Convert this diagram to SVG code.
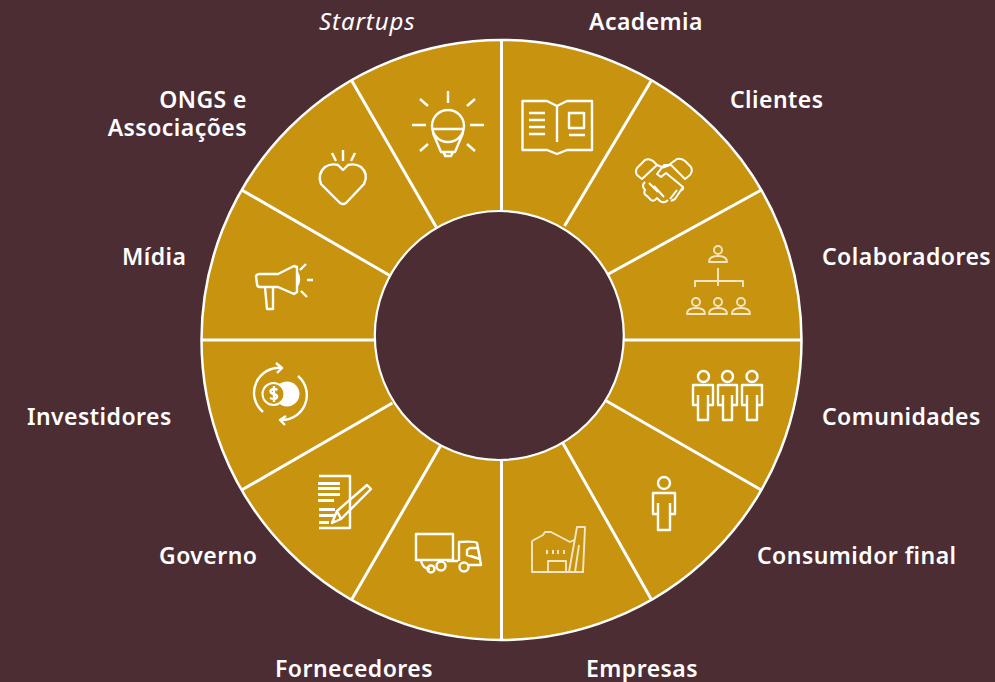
<svg xmlns="http://www.w3.org/2000/svg" width="995" height="682" viewBox="0 0 995 682">
<style>
.bg{fill:#4d2d34}
.ring{fill:#c8930f;stroke:#fff;stroke-width:2.500}
.sp{stroke:#fff;stroke-width:3;fill:none}
.i{fill:none;stroke:#fff;stroke-width:2.400;stroke-linejoin:round;stroke-linecap:butt}
.t{stroke-width:2}
.soft{stroke:#f4e6c4;stroke-width:1.900}
.w{fill:#fff;stroke:none}
text{font-family:"Noto Sans","Liberation Sans",sans-serif;font-size:23px;font-weight:600;fill:#fff;letter-spacing:.45px}
.it{font-style:italic;font-weight:400;font-size:24px;letter-spacing:.9px}
</style>
<rect class="bg" width="995" height="682"/>
<g id="ring"><circle class="ring" cx="501.500" cy="340" r="300"/></g>
<g id="connectors">
<path class="sp" d="M501.500 40V214M501.500 460V640M201.500 340H375.500M623.500 340H801.500M351.500 80.200L438.500 230.900M560 438L651.500 599.800M241.700 190L392.400 277M603 399L761.300 490M241.700 490L392.400 403M603 277L761.300 190M351.500 599.800L441 445M564.500 226L651.500 80.200"/>
</g>
<circle class="bg" cx="499.300" cy="335.500" r="124.500" stroke="#fff" stroke-width="2.200"/>

<g id="startups"><text class="it" x="319" y="30">Startups</text>
<g class="i"><circle cx="448" cy="126" r="16"/><path d="M432 129H464M433 133L441 152H455L463 133M443 152L445 155V156H451L453 152M448 91V103M420 99L428 106M475 99L467 106M412 125H426M484 125H470M420 151L428 144M475 151L467 144"/></g></g>

<g id="academia"><text x="589" y="30">Academia</text>
<g class="i"><path d="M522.500 101V150H547L557 154L567 150H592V101H567L557 106L547 101ZM557 106V142"/><path d="M529 113H545M529 120H545M529 127H545M529 134H545M569 135H585"/><rect x="569" y="113" width="15" height="15"/></g></g>

<g id="clientes"><text x="730" y="108">Clientes</text>
<g class="i t"><path d="M642 179L657 165L653 161Q649 158 645 160L637 168Q635 172 637 175ZM670 164L685 179L690 175Q693 171 691 167L685 161Q681 158 677 159ZM657 165L663 167.500L670 165H664L657 174L661 177L666 173L683 187Q684 190 680 191M645 182Q641 186 645 190Q643 194 647 196L651 200Q654 202 657 198L660 201Q664 204 668 200M649 183L658 192M654 186L664 197M683 187L675 199L671 201M677 190L670 199"/></g></g>

<g id="colaboradores"><text x="822" y="265">Colaboradores</text>
<g class="i soft"><circle cx="718" cy="250" r="4"/><path d="M709 262Q709 256 718 256Q727 256 727 262ZM718 268V286M695 287V281H743V287"/>
<circle cx="696" cy="302" r="4"/><path d="M687 314Q687 308 696 308Q705 308 705 314Z"/><circle cx="718" cy="302" r="4"/><path d="M709 314Q709 308 718 308Q727 308 727 314Z"/><circle cx="741" cy="302" r="4"/><path d="M732 314Q732 308 741 308Q750 308 750 314Z"/></g></g>

<g id="comunidades"><text x="822" y="425">Comunidades</text>
<g class="i"><circle cx="703.500" cy="376.500" r="5.500"/><circle cx="727.500" cy="376.500" r="5.500"/><circle cx="752" cy="376.500" r="5.500"/>
<path d="M693 405V385H713V405H708V420H698V405ZM698 395V405M708 395V405"/>
<path d="M718 405V385H737V405H732V420H723V405ZM723 395V405M732 395V405"/>
<path d="M742 405V385H762V405H757V420H747V405ZM747 395V405M757 395V405"/></g></g>

<g id="consumidor"><text x="757" y="564">Consumidor final</text>
<g class="i"><circle cx="664" cy="483" r="6"/><path d="M653 514V493H675V514H670V530H658V514ZM658 503V514M670 503V514"/></g></g>

<g id="empresas"><text x="586" y="677">Empresas</text>
<g class="i soft"><path d="M532 541L543 535L545 532H551L570 542L574 540M532 541V572H584M548 572V561H566V572M569 572L577 527H585L583 572M575 572L579 545"/></g>
<g fill="#f4e6c4"><rect x="546" y="550" width="2" height="4"/><rect x="552" y="550" width="2" height="4"/><rect x="557" y="550" width="2" height="4"/><rect x="563" y="550" width="2" height="4"/></g></g>

<g id="fornecedores"><text x="275" y="677">Fornecedores</text>
<g class="i"><rect x="416" y="534" width="37" height="26"/><path d="M459 561V542Q475 541 477 543L481 565H469M467 550L470 548H478L480 559L467 555ZM421 561Q423 569 430 569M447 561H458"/><circle cx="441" cy="566" r="4.500"/><circle cx="464" cy="567" r="4.500"/><circle cx="431" cy="569" r="3.500"/></g></g>

<g id="governo"><text x="159" y="564">Governo</text>
<path class="i" stroke-width="1.600" d="M319 476H350V528H319"/>
<g class="w"><rect x="318" y="482" width="22" height="3"/><rect x="318" y="487" width="22" height="3"/><rect x="318" y="493" width="22" height="3"/><rect x="318" y="499" width="16" height="3"/><rect x="319" y="508" width="16" height="3"/><rect x="319" y="514" width="16" height="3"/><rect x="319" y="521" width="10" height="3"/></g>
<path class="i" stroke-width="2" d="M332 523L337 511L367 485L371 489L341 519ZM337 511L341 519"/></g>

<g id="investidores"><text x="27" y="425">Investidores</text>
<circle class="w" cx="287" cy="394" r="12.500"/>
<circle cx="273.500" cy="394" r="11" fill="#c8930f" stroke="#fff" stroke-width="2"/>
<path class="i" d="M263 412A25 25 0 0 1 282 368M276 363L282 368L277 373M298 376A25 25 0 0 1 280 420M286 416L280 420L285 425"/>
<path class="i" stroke-width="1.800" d="M277.500 390Q274 387.500 271 390Q269 393 274 394Q278.500 395.500 276.500 398Q274 400 270 398M274 386V402"/></g>

<g id="midia"><text x="122" y="265">Mídia</text>
<g class="i"><path d="M256 276Q257 274 260 274H278L294 266L297 267V292L294 294L278 287H260Q257 287 257 284ZM265 287L267 309H273V287M297 272Q301 280 297 286M307 280H313M306 264L300 270M307 297L301 291"/></g></g>

<g id="ongs"><text text-anchor="end" x="247" y="108">ONGS e</text><text text-anchor="end" x="247" y="136">Associações</text>
<g class="i"><path d="M343 170L338 165Q331 163 325 167Q317 174 321 184L340 203Q343 205 346 203L364 184Q369 174 361 167Q355 163 348 165Z"/><path d="M343 150V161M332 153L336 161M355 153L351 161"/></g></g>
</svg>
